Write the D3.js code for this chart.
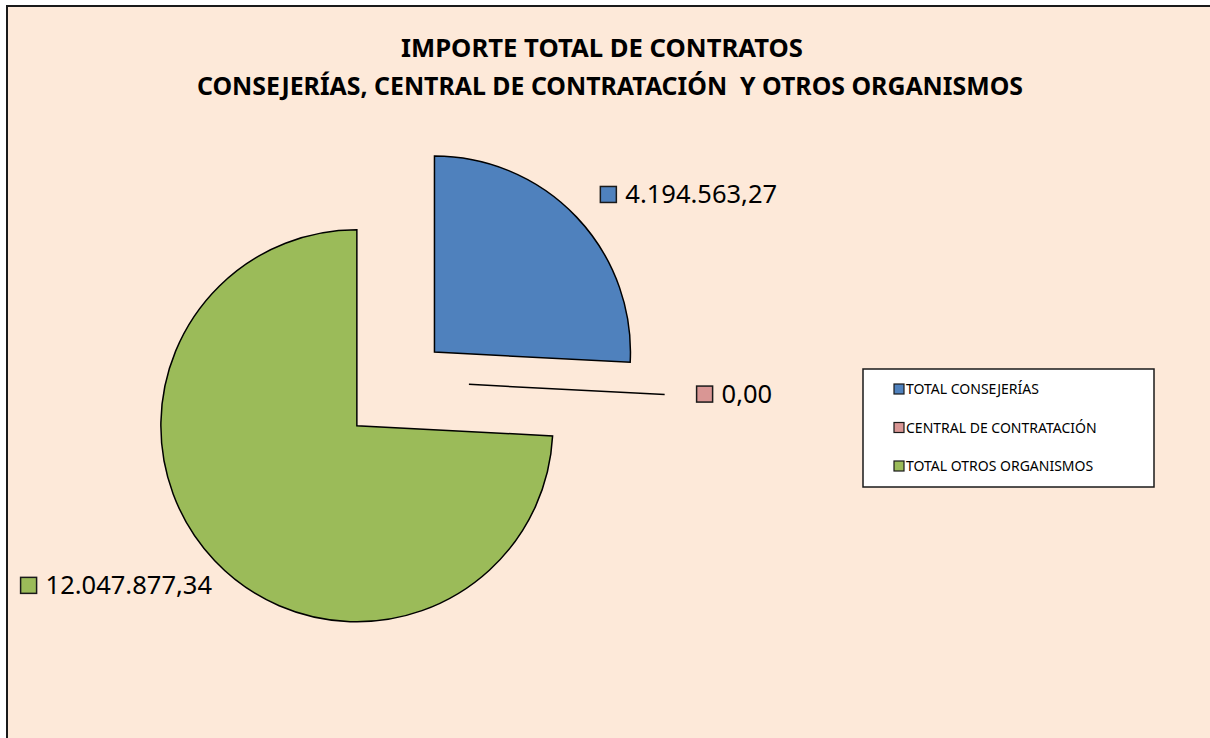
<!DOCTYPE html>
<html>
<head>
<meta charset="utf-8">
<script src="https://cdn.jsdelivr.net/npm/d3@7"></script>
<style>
  html, body { margin: 0; padding: 0; background: #ffffff; }
  svg { display: block; }
  text { font-family: "Noto Sans", "Open Sans", sans-serif; }
</style>
</head>
<body>
<script>
// ---- data ----
const categories = ["TOTAL CONSEJERÍAS", "CENTRAL DE CONTRATACIÓN", "TOTAL OTROS ORGANISMOS"];
const values = [4194563.27, 0.00, 12047877.34];
const valueLabels = ["4.194.563,27", "0,00", "12.047.877,34"];
const titleLines = ["IMPORTE TOTAL DE CONTRATOS", "CONSEJERÍAS, CENTRAL DE CONTRATACIÓN  Y OTROS ORGANISMOS"];

// ---- styling / layout ----
const W = 1210, H = 738;
const colors = ["#4F81BD", "#D99694", "#9BBB59"];
const explode = [42, 65, 65];
const cx = 404, cy = 381, R = 196;

const svg = d3.select("body").append("svg").attr("width", W).attr("height", H);

svg.append("rect").attr("x", 7).attr("y", 6).attr("width", W + 20).attr("height", H + 20)
  .attr("fill", "#FDE9D9").attr("stroke", "#1a1a1a").attr("stroke-width", 2);

// title
const titleW = [402, 826];
const titleX = [602, 610];
const titleY = [57, 95];
titleLines.forEach((t, i) => {
  svg.append("text")
    .attr("x", titleX[i]).attr("y", titleY[i])
    .attr("text-anchor", "middle")
    .attr("font-size", 25).attr("font-weight", "bold")
    .attr("fill", "#000")
    .style("white-space", "pre")
    .attr("textLength", titleW[i]).attr("lengthAdjust", "spacingAndGlyphs")
    .text(t);
});

// pie
const data = categories.map((c, i) => ({ cat: c, value: values[i], label: valueLabels[i], color: colors[i], ex: explode[i] }));
const pie = d3.pie().sort(null).value(d => d.value).startAngle(0).endAngle(2 * Math.PI);
const arcs = pie(data);
const arc = d3.arc().innerRadius(0).outerRadius(R);

const g = svg.append("g").attr("transform", `translate(${cx},${cy})`);

arcs.forEach(a => {
  const mid = (a.startAngle + a.endAngle) / 2;
  a.ox = Math.sin(mid) * a.data.ex;
  a.oy = -Math.cos(mid) * a.data.ex;
  a.mid = mid;
});

g.selectAll("path.slice").data(arcs).enter().append("path")
  .attr("class", "slice")
  .attr("transform", d => `translate(${d.ox},${d.oy})`)
  .attr("d", arc)
  .attr("fill", d => d.data.color)
  .attr("stroke", "#000").attr("stroke-width", 1.5).attr("stroke-linejoin", "miter");

// data labels
const labR = 226;
arcs.forEach(a => {
  const px = a.ox + Math.sin(a.mid) * labR;
  const py = a.oy - Math.cos(a.mid) * labR;
  const right = Math.sin(a.mid) >= 0;
  const lg = g.append("g");
  const t = lg.append("text").attr("font-size", 25.5).attr("fill", "#000").text(a.data.label);
  const tw = t.node().getComputedTextLength();
  const box = 16, gap = 9;
  const x0 = right ? px + 2 : px + 19 - (box + gap + tw);
  const yc = right ? py - 2 : py + 4;
  lg.insert("rect", "text").attr("x", x0).attr("y", yc - box / 2).attr("width", box).attr("height", box)
    .attr("fill", a.data.color).attr("stroke", "#1a1a1a").attr("stroke-width", 1.5);
  t.attr("x", x0 + box + gap).attr("y", yc + 9);
});

// legend
const lgX = 863, lgY = 369, lgW = 291, lgH = 118;
svg.append("rect").attr("x", lgX).attr("y", lgY).attr("width", lgW).attr("height", lgH)
  .attr("fill", "#ffffff").attr("stroke", "#1a1a1a").attr("stroke-width", 1.5);
const legY = d3.scalePoint().domain(categories).range([389, 466]);
categories.forEach((c, i) => {
  const y = legY(c);
  svg.append("rect").attr("x", 894).attr("y", y - 5).attr("width", 10).attr("height", 10)
    .attr("fill", colors[i]).attr("stroke", "#1a1a1a").attr("stroke-width", 1.2);
  svg.append("text").attr("x", 906).attr("y", y + 5).attr("font-size", 14).attr("fill", "#000").text(c);
});
</script>
</body>
</html>
